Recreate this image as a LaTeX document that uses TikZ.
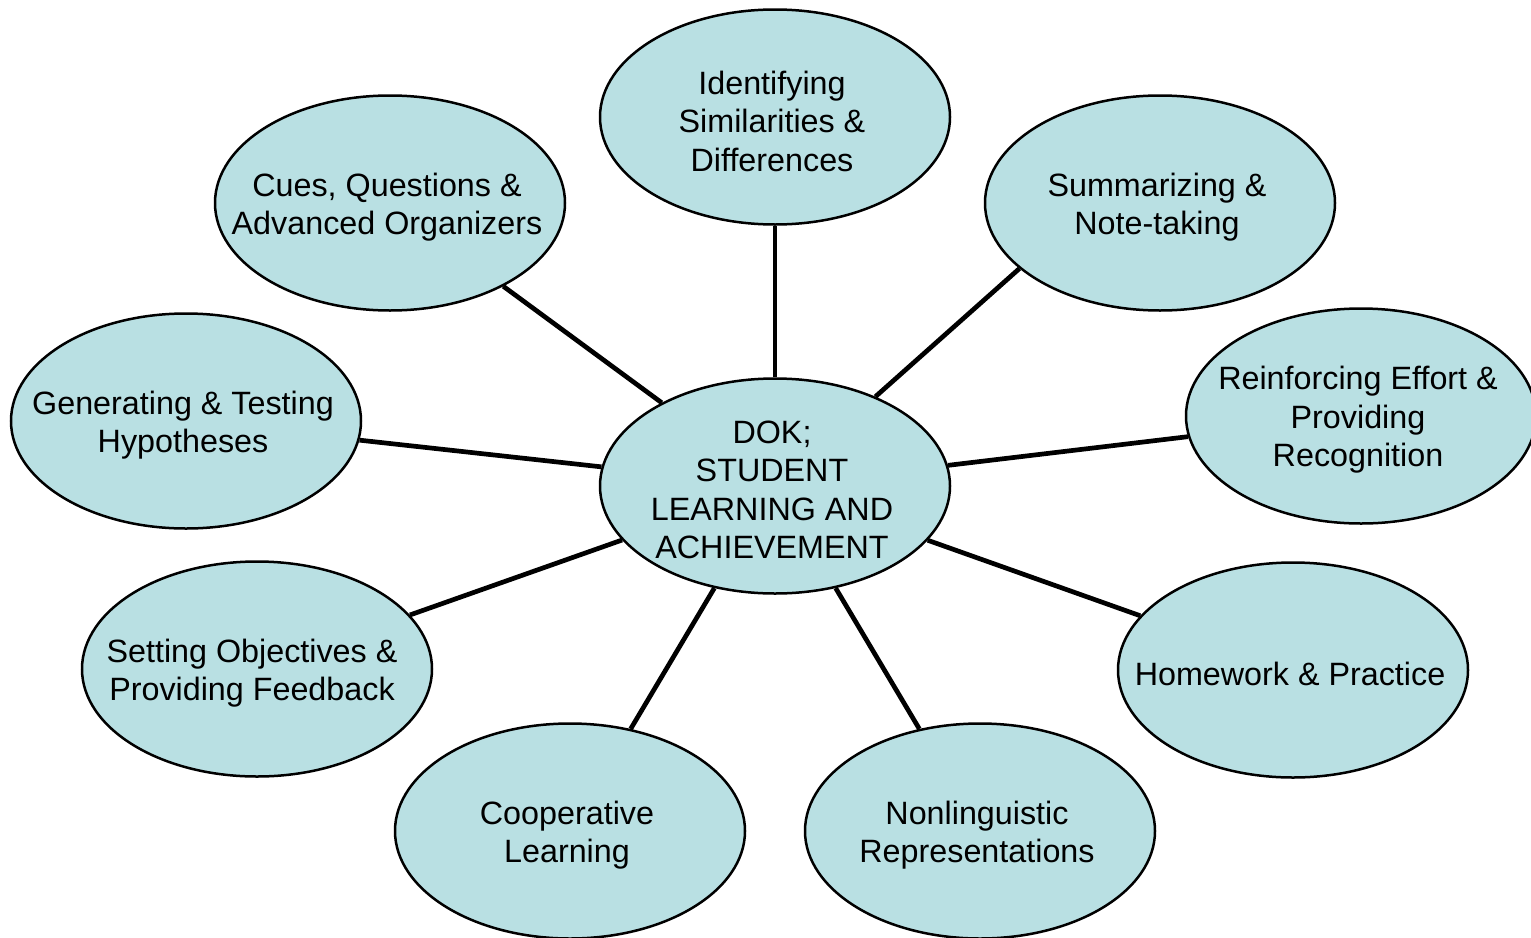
\documentclass[tikz,border=0pt]{standalone}
\usepackage{fontspec}
\setmainfont{Liberation Sans}
\usepackage{xcolor}
\definecolor{bubblefill}{HTML}{B9E0E3}
\usetikzlibrary{shapes}

\begin{document}
\begin{tikzpicture}[x=1pt, y=-1pt,
  every node/.style={font=\fontsize{32.3}{38.5}\selectfont},
  bubble/.style={draw, line width=2.5pt, ellipse, fill=bubblefill, minimum width=350pt, minimum height=215pt, inner sep=0pt},
  bubbletext/.style={align=center, inner sep=0pt, xshift=-3pt, yshift=-4pt},
  link/.style={line width=4.7pt}]
  \useasboundingbox (0,0) rectangle (1531,937);

  % Central topic
  \node[bubble] (dok) at (775,486) {};

  % Surrounding strategies
  \node[bubble] (ident) at (775,117) {};
  \node[bubble] (summ) at (1160,203) {};
  \node[bubble] (cues) at (390,203) {};
  \node[bubble] (gen) at (186,421) {};
  \node[bubble] (reinf) at (1361,416) {};
  \node[bubble] (setobj) at (257,669) {};
  \node[bubble] (hw) at (1293,670) {};
  \node[bubble] (coop) at (570,831) {};
  \node[bubble] (nonling) at (980,831) {};

  % Spokes from the centre to each strategy
  \foreach \n in {ident, cues, gen, reinf, setobj, hw, coop, nonling}
    \draw[link] (dok) -- (\n);
  \draw[link] (dok) -- (summ.205);

  % Texts inside the bubbles
  \node[bubbletext] (doktxt) at (dok.center) {DOK;\\STUDENT\\LEARNING AND\\ACHIEVEMENT};
  \node[bubbletext] (identtxt) at (ident.center) {Identifying\\Similarities \&\\Differences};
  \node[bubbletext] (summtxt) at (summ.center) {Summarizing \&\\Note-taking};
  \node[bubbletext] (cuestxt) at (cues.center) {Cues, Questions \&\\Advanced Organizers};
  \node[bubbletext] (gentxt) at (gen.center) {Generating \& Testing\\Hypotheses};
  \node[bubbletext] (reinftxt) at (reinf.center) {Reinforcing Effort \&\\Providing\\Recognition};
  \node[bubbletext] (setobjtxt) at ([xshift=-2pt]setobj.center) {Setting Objectives \&\\Providing Feedback};
  \node[bubbletext] (hwtxt) at (hw.center) {Homework \& Practice};
  \node[bubbletext] (cooptxt) at (coop.center) {Cooperative\\Learning};
  \node[bubbletext] (nonlingtxt) at (nonling.center) {Nonlinguistic\\Representations};
\end{tikzpicture}
\end{document}
